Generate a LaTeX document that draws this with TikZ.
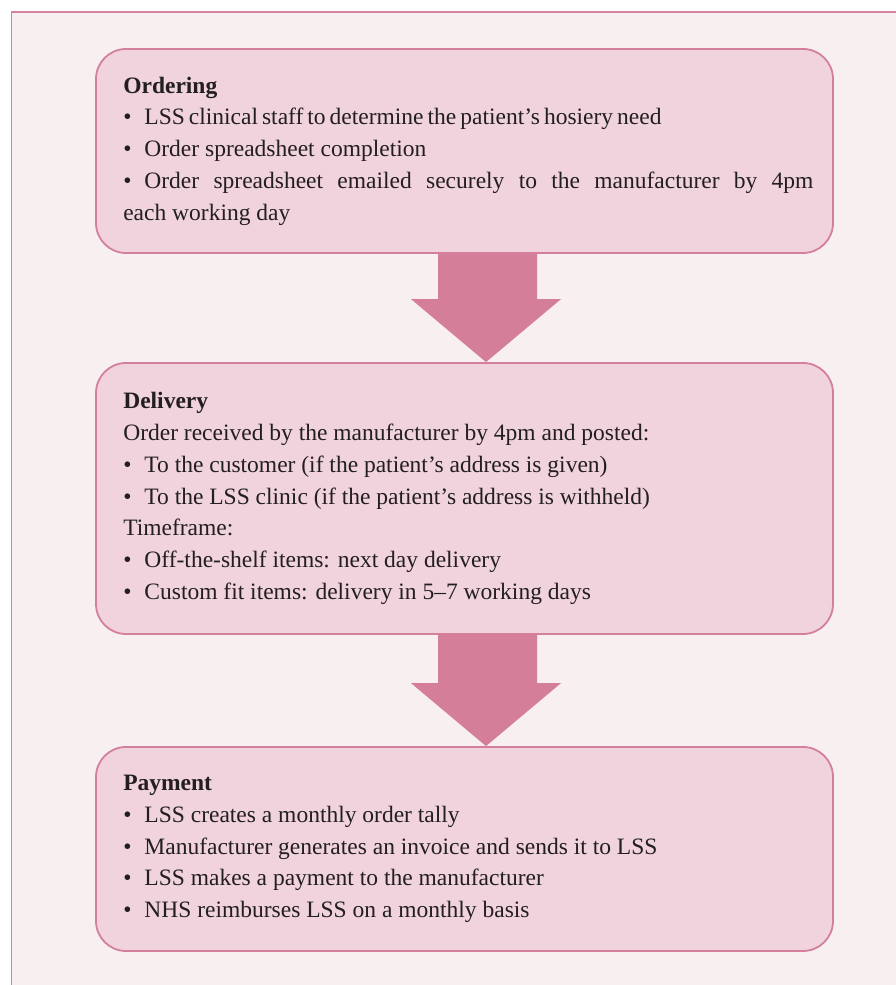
\documentclass[tikz,border=0pt]{standalone}
\usepackage{fontspec}
\setmainfont{Liberation Serif}
\usepackage{xcolor}
\usetikzlibrary{calc, backgrounds}

\definecolor{pagebg}{HTML}{F8EFF0}
\definecolor{framepink}{HTML}{D9829F}
\definecolor{boxfill}{HTML}{F0D3DC}
\definecolor{boxline}{HTML}{D4809C}
\definecolor{arrowpink}{HTML}{D57E9A}
\definecolor{inkdark}{HTML}{231F20}

\newcommand{\blt}{\textbullet\hspace{0.55em}}

\tikzset{
  stagebox/.style={draw=boxline, fill=boxfill, line width=1.8pt, rounded corners=30pt,
    minimum width=\boxwidth, inner sep=0pt},
  stagetext/.style={anchor=west, inner sep=0pt, align=left, text=inkdark,
    font=\fontsize{23.5}{31.8}\selectfont},
  flowarrow/.style={fill=arrowpink}
}

\begin{document}
\begin{tikzpicture}[x=1pt, y=1pt]

\useasboundingbox (0,0) rectangle (895,985);

% Uniform box size
\def\boxwidth{737pt}

% Stage boxes, one column
\node[stagebox, minimum height=204pt] (order)   at (464.5,834)   {};
\node[stagebox, minimum height=271pt] (deliver) at (464.5,486.5) {};
\node[stagebox, minimum height=204pt] (pay)     at (464.5,136)   {};

% Texts, left aligned inside the boxes (first item tight, third item justified)
\node[stagetext] (ordertxt) at ($(order.west)+(28,0)$) {\textbf{Ordering}\\
\blt {\spaceskip=0.17em LSS clinical staff to determine the patient's hosiery need}\\
\blt Order spreadsheet completion\\
\blt \makebox[669pt][s]{Order spreadsheet emailed securely to the manufacturer by 4pm}\\
each working day};

\node[stagetext] (delivertxt) at ($(deliver.west)+(28,0)$) {\textbf{Delivery}\\
Order received by the manufacturer by 4pm and posted:\\
\blt To the customer (if the patient's address is given)\\
\blt To the LSS clinic (if the patient's address is withheld)\\
Timeframe:\\
\blt Off-the-shelf items: next day delivery\\
\blt Custom fit items: delivery in 5--7 working days};

\node[stagetext] (paytxt) at ($(pay.west)+(28,0)$) {\textbf{Payment}\\
\blt LSS creates a monthly order tally\\
\blt Manufacturer generates an invoice and sends it to LSS\\
\blt LSS makes a payment to the manufacturer\\
\blt NHS reimburses LSS on a monthly basis};

\begin{scope}[on background layer]
  % page frame, open to the right and below
  \fill[white] (0,0) rectangle (895,985);
  \filldraw[fill=pagebg, draw=framepink, line width=1.3pt] (11.5,973) rectangle (910,-10);

  % block arrows between the stages
  \fill[flowarrow] ($(order.south)+(-26.5,0)$) -- ($(deliver.north)+(-26.5,63)$) -- ++(-27,0)
    -- ($(deliver.north)+(21.5,0)$) -- ($(deliver.north)+(96.5,63)$) -- ++(-24,0)
    -- ($(order.south)+(72.5,0)$) -- cycle;
  \fill[flowarrow] ($(deliver.south)+(-26.5,0)$) -- ($(pay.north)+(-26.5,63)$) -- ++(-27,0)
    -- ($(pay.north)+(21.5,0)$) -- ($(pay.north)+(96.5,63)$) -- ++(-24,0)
    -- ($(deliver.south)+(72.5,0)$) -- cycle;
\end{scope}

\end{tikzpicture}
\end{document}
